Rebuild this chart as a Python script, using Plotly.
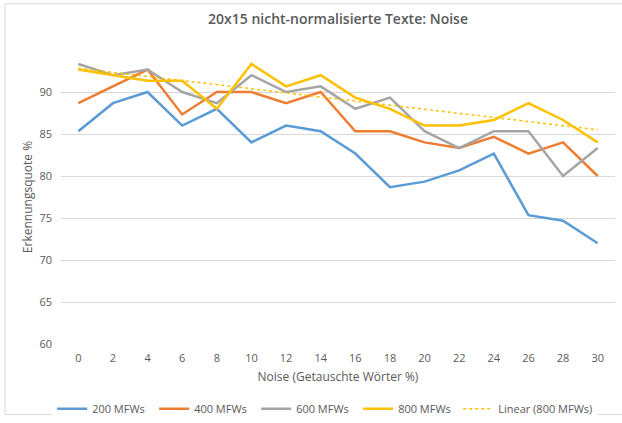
import numpy as np
import plotly.graph_objects as go

noise = [0, 2, 4, 6, 8, 10, 12, 14, 16, 18, 20, 22, 24, 26, 28, 30]
mfw200 = [85.33, 88.67, 90.0, 86.0, 88.0, 84.0, 86.0, 85.33, 82.67, 78.67, 79.33, 80.67, 82.67, 75.33, 74.67, 72.0]
mfw400 = [88.67, 90.67, 92.67, 87.33, 90.0, 90.0, 88.67, 90.0, 85.33, 85.33, 84.0, 83.33, 84.67, 82.67, 84.0, 80.0]
mfw600 = [93.33, 92.0, 92.67, 90.0, 88.67, 92.0, 90.0, 90.67, 88.0, 89.33, 85.33, 83.33, 85.33, 85.33, 80.0, 83.33]
mfw800 = [92.67, 92.0, 91.33, 91.33, 88.0, 93.33, 90.67, 92.0, 89.33, 88.0, 86.0, 86.0, 86.67, 88.67, 86.67, 84.0]
y_ticks = [60, 65, 70, 75, 80, 85, 90]

# Excel-style linear trendline of the 800 MFWs series
slope, intercept = np.polyfit(noise, mfw800, 1)
trend = [slope * x + intercept for x in noise]

grey = "#595959"
font = "Open Sans"

fig = go.Figure()
series = [("200 MFWs", mfw200, "#5B9BD5"), ("400 MFWs", mfw400, "#ED7D31"),
          ("600 MFWs", mfw600, "#A5A5A5"), ("800 MFWs", mfw800, "#FFC000")]
for name, vals, col in series:
    fig.add_trace(go.Scatter(x=noise, y=vals, mode="lines", name=name,
                             line=dict(color=col, width=2.5), legend="legend"))
fig.add_trace(go.Scatter(x=noise, y=trend, mode="lines", name="Linear (800 MFWs)",
                         line=dict(color="#FFC000", width=1.5, dash="dot"),
                         legend="legend2"))

leg_y = -0.171
fig.update_layout(
    width=622, height=423,
    margin=dict(l=61, r=7, t=50, b=79, autoexpand=False),
    paper_bgcolor="white", plot_bgcolor="white",
    font=dict(family=font, color=grey, size=11),
    title=dict(text="20x15 nicht-normalisierte Texte: Noise", x=0.5, xanchor="center",
               y=0.955, yanchor="middle", xref="paper",
               font=dict(family=font, size=14, color=grey, weight=600)),
    showlegend=True,
    legend=dict(orientation="h", x=-0.016, xanchor="left", y=leg_y, yanchor="top",
                font=dict(family=font, size=11, color=grey), entrywidth=57,
                itemwidth=30, tracegroupgap=0),
    legend2=dict(orientation="h", x=0.717, xanchor="left", y=leg_y, yanchor="top",
                 font=dict(family=font, size=11, color=grey),
                 itemwidth=30, tracegroupgap=0),
    shapes=[dict(type="rect", xref="paper", yref="paper",
                 x0=-0.1012, x1=1.03, y0=-0.24, y1=1.157,
                 line=dict(color="#d9d9d9", width=1), fillcolor="rgba(0,0,0,0)",
                 layer="below")],
)
fig.update_xaxes(range=[-1, 31], tickmode="array", tickvals=noise,
                 ticktext=[str(v) for v in noise], showgrid=False, zeroline=False,
                 showline=False, ticks="", ticklabelstandoff=6, automargin=False,
                 title=dict(text="Noise (Getauschte Wörter %)", standoff=8,
                            font=dict(family=font, size=12, color=grey)))
fig.update_yaxes(range=[60, 95], tickmode="array", tickvals=y_ticks,
                 showgrid=True, gridcolor="#d9d9d9", gridwidth=1, zeroline=False,
                 showline=False, ticks="", ticklabelstandoff=8, automargin=False,
                 title=dict(text="Erkennungsquote %", standoff=4,
                            font=dict(family=font, size=12, color=grey)))
fig.write_html("out.html", config={"displayModeBar": False},
               post_script="document.body.style.margin='0';")
